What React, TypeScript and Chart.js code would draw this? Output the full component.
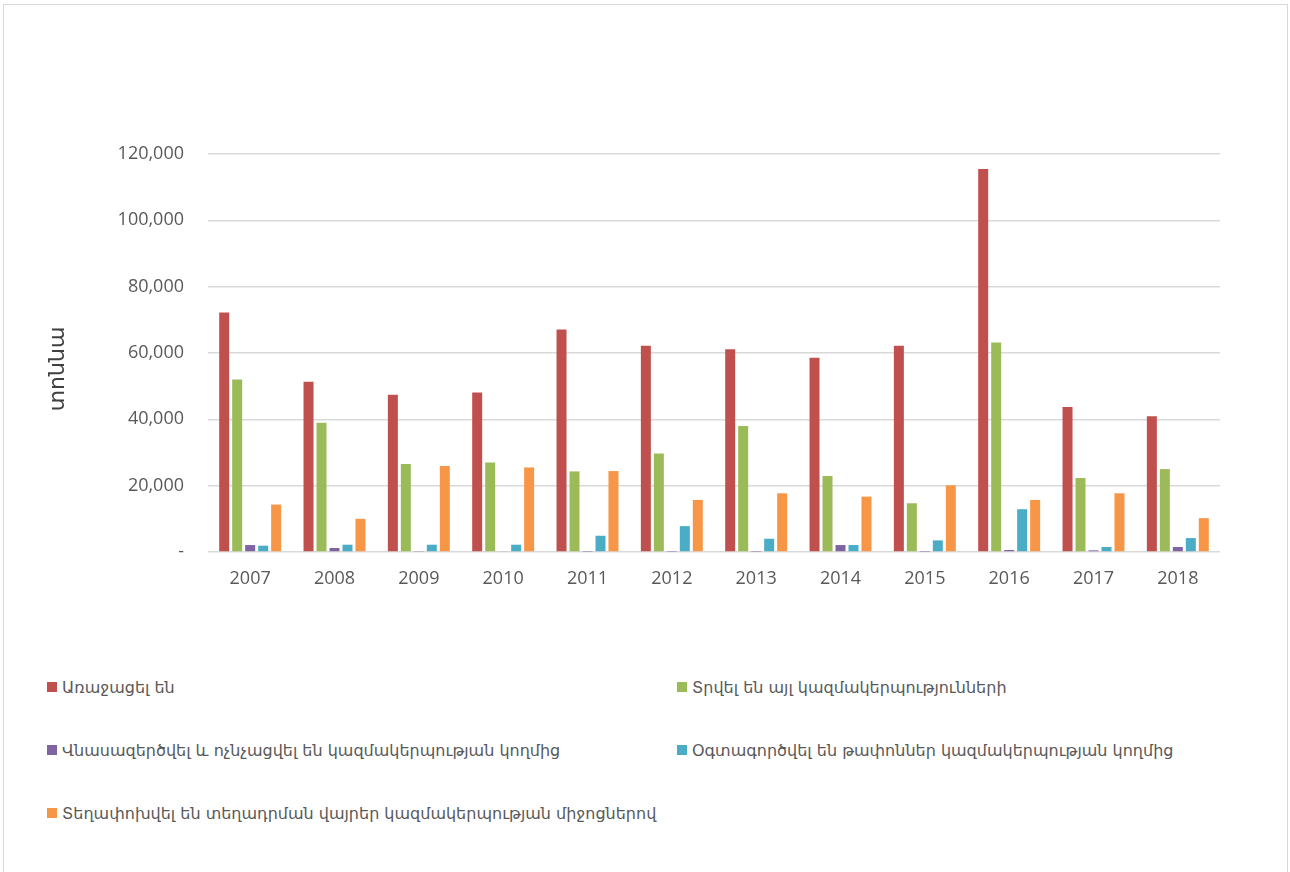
import React, { useEffect, useRef } from "react";
import { Chart, registerables } from "chart.js";

Chart.register(...registerables);

const years = ["2007", "2008", "2009", "2010", "2011", "2012", "2013", "2014", "2015", "2016", "2017", "2018"];

const generated = [72200, 51300, 47400, 48100, 67100, 62200, 61100, 58600, 62200, 115500, 43700, 40900];
const givenToOthers = [52000, 39000, 26500, 27000, 24300, 29700, 38000, 22900, 14700, 63200, 22300, 25000];
const neutralized = [2100, 1200, 300, 200, 100, 100, 100, 2100, 100, 600, 500, 1500];
const landfilled = [1900, 2200, 2200, 2200, 4900, 7800, 4000, 2100, 3500, 12900, 1500, 4200];
const transported = [14300, 10000, 25900, 25500, 24400, 15700, 17700, 16700, 20100, 15700, 17700, 10200];

const seriesNames = [
  "Առաջացել են",
  "Տրվել են այլ կազմակերպությունների",
  "Վնասազերծվել և ոչնչացվել են կազմակերպության կողմից",
  "Օգտագործվել են թափոններ կազմակերպության կողմից",
  "Տեղափոխվել են տեղադրման վայրեր կազմակերպության միջոցներով",
];
const seriesColors = ["#C0504D", "#9BBB59", "#8064A2", "#4BACC6", "#F79646"];
const seriesData = [generated, givenToOthers, neutralized, landfilled, transported];

const yTitle = "տոննա";
const yMax = 120000;
const yStep = 20000;

const CANVAS_W = 1283;
const CANVAS_H = 620;

const yTitlePlugin = {
  id: "yTitlePlugin",
  afterDraw(chart: any) {
    const ctx = chart.ctx;
    const area = chart.chartArea;
    ctx.save();
    ctx.translate(54, (area.top + area.bottom) / 2 + 16);
    ctx.rotate(-Math.PI / 2);
    ctx.fillStyle = "#404040";
    ctx.font = "22px 'DejaVu Sans', sans-serif";
    ctx.textAlign = "center";
    ctx.textBaseline = "middle";
    ctx.fillText(yTitle, 0, 0);
    ctx.restore();
  },
};

export default function App() {
  const ref = useRef<HTMLCanvasElement | null>(null);

  useEffect(() => {
    if (!ref.current) return;
    const chart = new Chart(ref.current, {
      type: "bar",
      data: {
        labels: years,
        datasets: seriesData.map((d, i) => ({
          label: seriesNames[i],
          data: d,
          backgroundColor: seriesColors[i],
          borderWidth: 0,
          barPercentage: 0.77,
          categoryPercentage: 0.77,
        })),
      },
      options: {
        responsive: false,
        animation: false,
        devicePixelRatio: 1,
        layout: { padding: { top: 149, right: 67, bottom: 23, left: 0 } },
        plugins: {
          legend: { display: false },
          tooltip: { enabled: false },
        },
        scales: {
          x: {
            grid: { display: false, drawTicks: false },
            border: { display: false },
            ticks: {
              color: "#595959",
              font: { family: "'Open Sans', sans-serif", size: 18 },
              padding: 16,
            },
            afterFit: (s: any) => {
              s.height = 50;
            },
          },
          y: {
            min: 0,
            max: yMax,
            grid: { color: "#d9d9d9", lineWidth: 1.5, drawTicks: false },
            border: { display: false },
            ticks: {
              stepSize: yStep,
              color: "#595959",
              padding: 24,
              font: { family: "'Open Sans', sans-serif", size: 18 },
              callback: (v: any) => (Number(v) === 0 ? "-" : Number(v).toLocaleString("en-US")),
            },
            title: { display: false, text: yTitle },
            afterFit: (s: any) => {
              s.width = 204;
            },
          },
        },
      },
      plugins: [yTitlePlugin],
    });
    return () => chart.destroy();
  }, []);

  const legendRows = [
    [0, 1],
    [2, 3],
    [4],
  ];
  const rowY = [682, 745, 808];
  const colX = [43, 673];

  return (
    <div
      style={{
        position: "absolute",
        left: 3,
        top: 4,
        width: CANVAS_W,
        height: 880,
        border: "1px solid #d9d9d9",
        background: "#fff",
        overflow: "hidden",
      }}
    >
      <canvas
        ref={ref}
        width={CANVAS_W}
        height={CANVAS_H}
        style={{ position: "absolute", left: 0, top: 0, width: CANVAS_W, height: CANVAS_H }}
      />
      {legendRows.map((row, r) =>
        row.map((si, c) => (
          <div
            key={si}
            style={{
              position: "absolute",
              left: colX[c],
              top: rowY[r] - 12,
              height: 24,
              display: "flex",
              alignItems: "center",
              fontFamily: "'DejaVu Sans', sans-serif",
              fontSize: 16,
              color: "#595959",
              whiteSpace: "nowrap",
            }}
          >
            <span
              style={{
                display: "inline-block",
                width: 10,
                height: 10,
                background: seriesColors[si],
                marginRight: 5,
              }}
            />
            {seriesNames[si]}
          </div>
        ))
      )}
    </div>
  );
}
